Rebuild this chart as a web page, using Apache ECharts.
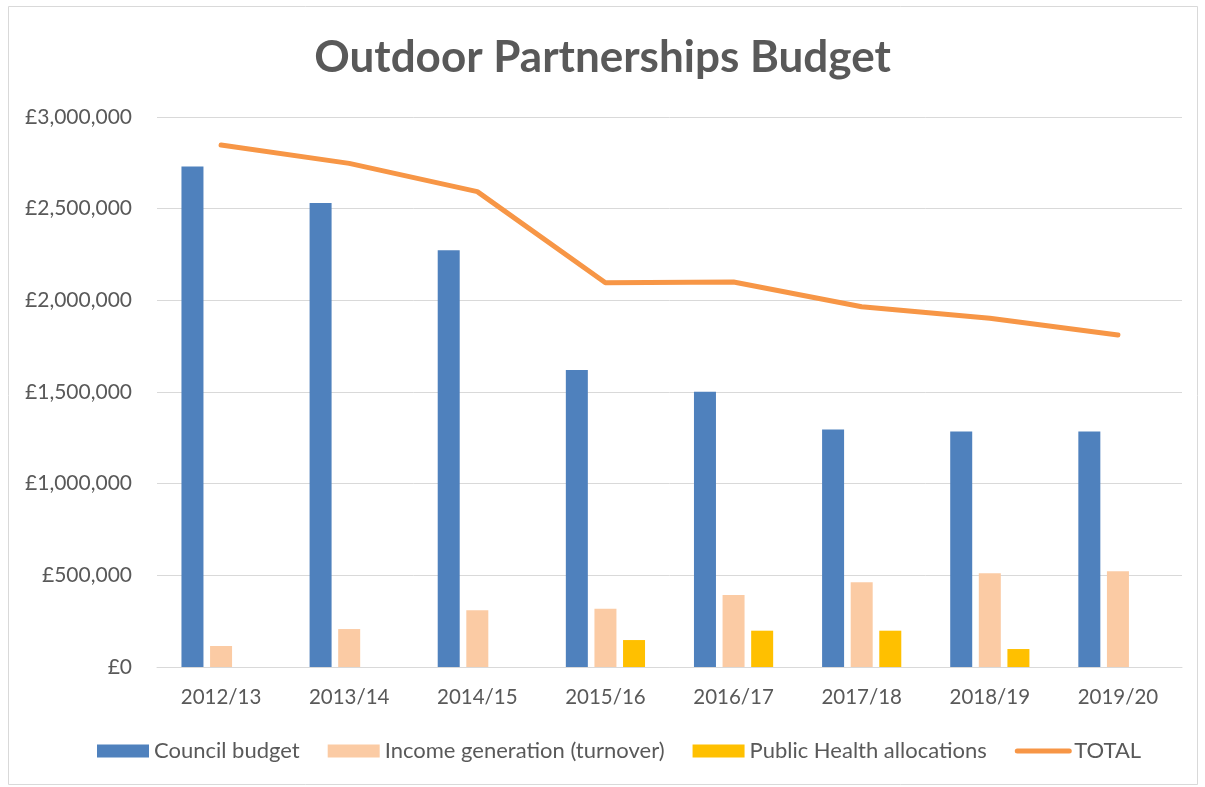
<!DOCTYPE html>
<html><head><meta charset="utf-8">
<script src="https://cdn.jsdelivr.net/npm/echarts@6/dist/echarts.min.js"></script>
<style>html,body{margin:0;padding:0;background:#fff}#c{width:1205px;height:787px}</style>
</head><body><div id="c"></div>
<script>
const categories = ['2012/13','2013/14','2014/15','2015/16','2016/17','2017/18','2018/19','2019/20'];
const councilBudget = [2730000, 2531000, 2273000, 1620000, 1502000, 1296000, 1284000, 1284000];
const incomeGeneration = [114500, 207000, 309000, 318000, 393000, 462000, 511000, 522000];
const publicHealth = [null, null, null, 147000, 198000, 198000, 98000, null];
const total = [2847000, 2747000, 2593000, 2096000, 2100000, 1965000, 1902000, 1811000];
const yTicks = [0, 500000, 1000000, 1500000, 2000000, 2500000, 3000000];

const FONT = 'Lato, "Open Sans", sans-serif';
const chart = echarts.init(document.getElementById('c'), null, {renderer: 'canvas'});
const fmt = v => '£' + v.toLocaleString('en-GB');
chart.setOption({
  animation: false,
  backgroundColor: '#fff',
  graphic: [{type: 'rect', shape: {x: 8.5, y: 6.5, width: 1189, height: 778}, style: {fill: 'none', stroke: '#d9d9d9', lineWidth: 1}, silent: true}],
  title: {text: 'Outdoor Partnerships Budget', left: 'center', top: 31,
    textStyle: {fontFamily: FONT, fontSize: 44, fontWeight: 'bold', color: '#595959'}},
  legend: {bottom: 20, left: 92, itemWidth: 52, itemHeight: 13, itemGap: 28,
    textStyle: {fontFamily: FONT, fontSize: 22, color: '#595959'},
    data: [{name: 'Council budget', icon: 'rect'}, {name: 'Income generation (turnover)', icon: 'rect'},
           {name: 'Public Health allocations', icon: 'rect'},
           {name: 'TOTAL', itemStyle: {opacity: 0}, lineStyle: {width: 5, cap: 'round', color: '#F79646'}}]},
  grid: {left: 157, right: 23, top: 117, bottom: 120, containLabel: false},
  xAxis: {type: 'category', data: categories,
    axisLine: {lineStyle: {color: '#d9d9d9', width: 1}}, axisTick: {show: false},
    axisLabel: {fontFamily: FONT, fontSize: 20.5, color: '#595959', margin: 20}},
  yAxis: {type: 'value', min: yTicks[0], max: yTicks[yTicks.length-1], interval: 500000,
    axisLine: {show: false}, axisTick: {show: false},
    splitLine: {lineStyle: {color: '#d9d9d9', width: 1}},
    axisLabel: {fontFamily: FONT, fontSize: 21, color: '#595959', margin: 25, formatter: fmt}},
  series: [
    {name: 'Council budget', type: 'bar', data: councilBudget, barWidth: 22, barGap: '30%', barCategoryGap: '38%',
     itemStyle: {color: '#4F81BD'}},
    {name: 'Income generation (turnover)', type: 'bar', data: incomeGeneration, barWidth: 22,
     itemStyle: {color: '#FBCBA4'}},
    {name: 'Public Health allocations', type: 'bar', data: publicHealth, barWidth: 22,
     itemStyle: {color: '#FFC000'}},
    {name: 'TOTAL', type: 'line', data: total, symbol: 'none', showSymbol: false,
     lineStyle: {color: '#F79646', width: 5, cap: 'round', join: 'round'}, itemStyle: {color: '#F79646'}}
  ]
});
</script></body></html>
